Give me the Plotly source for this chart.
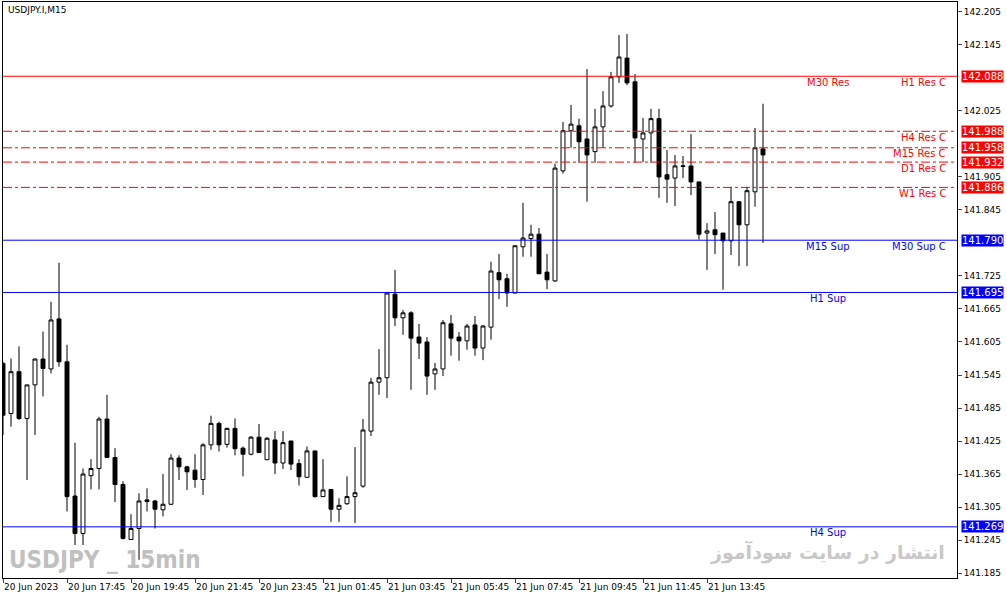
import pandas as pd
import plotly.graph_objects as go

# candle data (USDJPY M15, from 20 Jun 2023 15:45)
opens = [141.566, 141.475, 141.551, 141.466, 141.527, 141.574, 141.556, 141.647, 141.569, 141.325,
         141.257, 141.362, 141.375, 141.465, 141.395, 141.346, 141.246, 141.266, 141.318, 141.316,
         141.300, 141.310, 141.394, 141.378, 141.372, 141.355, 141.418, 141.457, 141.419, 141.448,
         141.412, 141.401, 141.432, 141.391, 141.427, 141.385, 141.425, 141.384, 141.359, 141.407,
         141.324, 141.337, 141.301, 141.311, 141.324, 141.343, 141.443, 141.532, 141.540, 141.692,
         141.649, 141.658, 141.614, 141.605, 141.547, 141.556, 141.638, 141.614, 141.607, 141.636,
         141.594, 141.632, 141.731, 141.720, 141.694, 141.778, 141.793, 141.801, 141.732, 141.716,
         141.916, 141.989, 141.998, 141.974, 141.951, 141.996, 142.034, 142.087, 142.121, 142.078,
         141.974, 141.985, 142.011, 141.909, 141.903, 141.924, 141.925, 141.896, 141.803, 141.809,
         141.803, 141.789, 141.860, 141.818, 141.878, 141.956]
highs = [141.569, 141.575, 141.597, 141.527, 141.575, 141.624, 141.678, 141.749, 141.600, 141.422,
         141.375, 141.392, 141.469, 141.509, 141.412, 141.352, 141.292, 141.330, 141.339, 141.318,
         141.365, 141.401, 141.399, 141.380, 141.401, 141.421, 141.471, 141.460, 141.449, 141.466,
         141.415, 141.434, 141.456, 141.432, 141.443, 141.443, 141.425, 141.392, 141.415, 141.407,
         141.392, 141.337, 141.321, 141.361, 141.414, 141.465, 141.540, 141.592, 141.696, 141.736,
         141.663, 141.661, 141.638, 141.614, 141.567, 141.645, 141.654, 141.623, 141.638, 141.652,
         141.636, 141.751, 141.765, 141.729, 141.780, 141.858, 141.818, 141.812, 141.765, 141.929,
         142.005, 142.036, 142.011, 142.101, 142.029, 142.061, 142.096, 142.163, 142.165, 142.092,
         142.012, 142.029, 142.029, 141.954, 141.945, 141.943, 141.983, 141.896, 141.821, 141.841,
         141.803, 141.887, 141.860, 141.887, 141.994, 142.038]
lows = [141.436, 141.451, 141.463, 141.354, 141.436, 141.506, 141.548, 141.560, 141.297, 141.236,
        141.236, 141.337, 141.337, 141.394, 141.314, 141.246, 141.245, 141.209, 141.297, 141.266,
        141.288, 141.309, 141.354, 141.336, 141.340, 141.327, 141.409, 141.406, 141.413, 141.399,
        141.361, 141.399, 141.403, 141.391, 141.365, 141.374, 141.372, 141.344, 141.358, 141.322,
        141.323, 141.278, 141.278, 141.309, 141.276, 141.340, 141.434, 141.509, 141.503, 141.634,
        141.618, 141.518, 141.574, 141.509, 141.518, 141.543, 141.580, 141.571, 141.591, 141.580,
        141.572, 141.609, 141.683, 141.669, 141.694, 141.760, 141.760, 141.729, 141.701, 141.714,
        141.911, 141.958, 141.931, 141.860, 141.931, 141.958, 142.031, 142.076, 142.072, 141.931,
        141.932, 141.931, 141.867, 141.858, 141.852, 141.903, 141.872, 141.791, 141.736, 141.765,
        141.700, 141.763, 141.743, 141.743, 141.851, 141.785]
closes = [141.472, 141.551, 141.466, 141.527, 141.574, 141.557, 141.645, 141.569, 141.324, 141.257,
          141.365, 141.375, 141.465, 141.395, 141.346, 141.248, 141.266, 141.316, 141.315, 141.301,
          141.310, 141.394, 141.378, 141.369, 141.355, 141.418, 141.457, 141.418, 141.448, 141.411,
          141.401, 141.432, 141.404, 141.430, 141.385, 141.422, 141.383, 141.360, 141.407, 141.324,
          141.336, 141.301, 141.308, 141.324, 141.331, 141.445, 141.532, 141.540, 141.694, 141.649,
          141.658, 141.612, 141.603, 141.543, 141.556, 141.640, 141.612, 141.607, 141.634, 141.594,
          141.634, 141.734, 141.718, 141.694, 141.780, 141.794, 141.801, 141.729, 141.718, 141.921,
          141.989, 142.001, 141.969, 141.945, 141.996, 142.034, 142.087, 142.123, 142.076, 141.976,
          141.985, 142.011, 141.905, 141.901, 141.925, 141.925, 141.896, 141.801, 141.807, 141.800,
          141.789, 141.860, 141.818, 141.880, 141.958, 141.945]

time_labels = ["20 Jun 2023", "20 Jun 17:45", "20 Jun 19:45", "20 Jun 21:45", "20 Jun 23:45",
               "21 Jun 01:45", "21 Jun 03:45", "21 Jun 05:45", "21 Jun 07:45", "21 Jun 09:45",
               "21 Jun 11:45", "21 Jun 13:45"]
price_ticks = [142.205, 142.145, 142.025, 141.905, 141.845, 141.725, 141.665, 141.605, 141.545,
               141.485, 141.425, 141.365, 141.305, 141.245, 141.185]

# support / resistance levels
levels = [142.088, 141.988, 141.958, 141.932, 141.886, 141.790, 141.695, 141.269]
level_colors = ["red", "red", "red", "red", "red", "blue", "blue", "blue"]
level_dash = ["solid", "dashdot", "dashdot", "dashdot", "dashdot", "solid", "solid", "solid"]
level_names_a = ["M30 Res", "", "", "", "", "M15 Sup", "H1 Sup", "H4 Sup"]
level_names_b = ["H1 Res C", "H4 Res C", "M15 Res C", "D1 Res C", "W1 Res C", "M30 Sup C", "", ""]

df = pd.DataFrame({"open": opens, "high": highs, "low": lows, "close": closes})
df["idx"] = range(len(df))

fig = go.Figure(go.Candlestick(
    x=df["idx"], open=df["open"], high=df["high"], low=df["low"], close=df["close"],
    increasing=dict(fillcolor="white", line=dict(color="black", width=1)),
    decreasing=dict(fillcolor="black", line=dict(color="black", width=1)),
    whiskerwidth=0, showlegend=False, hoverinfo="skip"))

for lv, col, dsh, na, nb in zip(levels, level_colors, level_dash, level_names_a, level_names_b):
    fig.add_hline(y=lv, line=dict(color=col, width=1, dash=dsh))
    fig.add_annotation(x=1.004, y=lv, xref="paper", text=f"{lv:.3f}", showarrow=False,
                       xanchor="left", bgcolor=col, font=dict(color="white", size=10,
                       family="DejaVu Sans"), borderpad=0)
    lab_y = lv - 0.011
    if na:
        fig.add_annotation(x=103.1, y=lab_y, text=na, showarrow=False, xanchor="center",
                           font=dict(color=col, size=10, family="DejaVu Sans"))
    if nb:
        fig.add_annotation(x=118.1, y=lab_y, text=nb, showarrow=False, xanchor="right",
                           font=dict(color=col, size=10, family="DejaVu Sans"))

fig.add_annotation(x=0.003, y=0.998, xref="paper", yref="paper", text="USDJPY.I,M15",
                   showarrow=False, xanchor="left", yanchor="top",
                   font=dict(size=9, family="DejaVu Sans", color="black"))
fig.add_annotation(x=0.004, y=0.004, xref="paper", yref="paper", text="<b>USDJPY _ 15min</b>",
                   showarrow=False, xanchor="left", yanchor="bottom",
                   font=dict(size=24, family="DejaVu Sans Condensed", color="#c0c0c0"))
fig.add_annotation(x=0.99, y=0.02, xref="paper", yref="paper", text="<b>انتشار در سایت سودآموز</b>",
                   showarrow=False, xanchor="right", yanchor="bottom",
                   font=dict(size=19, family="DejaVu Sans", color="#c8c8c8"))

fig.update_layout(
    width=1007, height=599, paper_bgcolor="white", plot_bgcolor="white",
    margin=dict(l=3, r=50, t=2, b=21),
    font=dict(family="DejaVu Sans", size=9, color="black"),
    xaxis=dict(range=[0, 119.25], tickvals=list(range(0, 96, 8)), ticktext=time_labels,
               ticks="outside", ticklen=4, ticklabelposition="outside right", tickangle=0,
               automargin=False, showgrid=False, showline=True, linecolor="black", mirror=True,
               rangeslider=dict(visible=False), tickfont=dict(size=9)),
    yaxis=dict(range=[141.176, 142.223], side="right", tickvals=price_ticks,
               ticktext=[f"{p:.3f}" for p in price_ticks], ticks="outside", ticklen=4,
               automargin=False, showgrid=False, showline=True, linecolor="black", mirror=True,
               tickfont=dict(size=9)),
)
# drop the page's default body margin so the chart fills the window like the original
fig.write_html("out.html", config={"displayModeBar": False},
               post_script="document.body.style.margin='0';")
